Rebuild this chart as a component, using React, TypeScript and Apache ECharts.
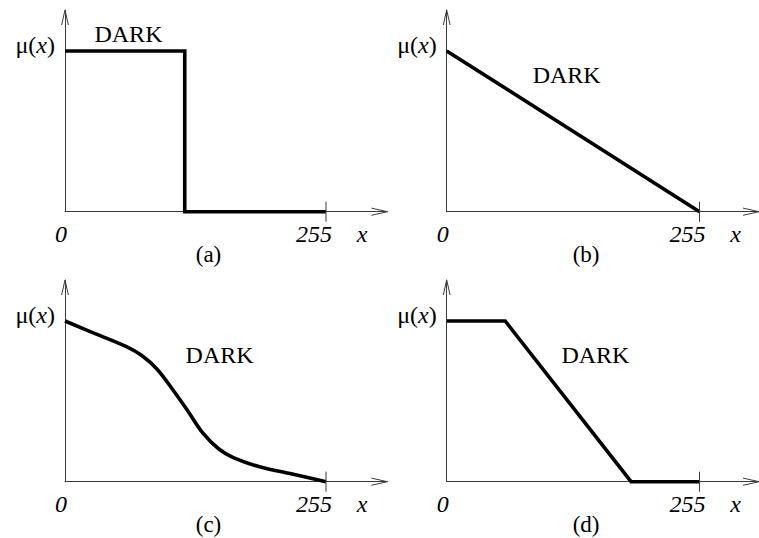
import React, { useEffect, useRef } from "react";
import * as echarts from "echarts";

// Axis extents: x runs a little past 255 so the arrow sits beyond the last tick
const X_MAX = 315;
const Y_MAX = 1.255;
const X_LAST = 255;

// (a) crisp threshold
const stepX = [0, 117, 117, 255];
const stepMu = [1, 1, 0, 0];
// (b) linear ramp
const rampX = [0, 255];
const rampMu = [1, 0];
// (c) smooth S-shaped fall-off
const curveX = [0, 30, 60, 75, 90, 105, 120, 135, 150, 165, 190, 222, 255];
const curveMu = [1.0, 0.92, 0.84, 0.785, 0.7, 0.575, 0.44, 0.3, 0.205, 0.148, 0.093, 0.048, 0];
// (d) trapezoidal shoulder
const trapX = [0, 59, 186, 255];
const trapMu = [1, 1, 0, 0];

const panelTags = ["(a)", "(b)", "(c)", "(d)"];
const setName = "DARK";
const setAnchorX = [62, 121, 151, 150];
const setAnchorMu = [1.105, 0.85, 0.79, 0.79];
const originLabel = "0";
const lastLabel = "255";
const axisName = "x";

const panelsX = [stepX, rampX, curveX, trapX];
const panelsMu = [stepMu, rampMu, curveMu, trapMu];
const panelSmooth = [false, false, 0.35, false];

// layout of the 2x2 arrangement
const LEFTS = [65, 446.7, 65, 446.7];
const TOPS = [10, 10, 280, 280];
const GRID_W = 322.4;
const GRID_H = 201.7;

const FONT = "'Liberation Serif', 'Times New Roman', 'DejaVu Serif', serif";
const INK = "#000";
const AXIS_INK = "#3a3a3a";

export default function App() {
  const ref = useRef<HTMLDivElement>(null);

  useEffect(() => {
    if (!ref.current) return;
    const chart = echarts.init(ref.current, null, { renderer: "svg" });

    const grids = LEFTS.map((left, i) => ({
      left,
      top: TOPS[i],
      width: GRID_W,
      height: GRID_H,
      containLabel: false,
    }));

    const axisCommon = {
      axisLine: { show: true, onZero: false, lineStyle: { color: AXIS_INK, width: 1 } },
      axisTick: { show: false },
      axisLabel: { show: false },
      splitLine: { show: false },
    };

    const xAxes = grids.map((_, i) => ({
      type: "value",
      gridIndex: i,
      min: 0,
      max: X_MAX,
      ...axisCommon,
    }));
    const yAxes = grids.map((_, i) => ({
      type: "value",
      gridIndex: i,
      min: 0,
      max: Y_MAX,
      ...axisCommon,
    }));

    const series = panelsX.map((xs, i) => ({
      type: "line",
      xAxisIndex: i,
      yAxisIndex: i,
      data: xs.map((x, k) => [x, panelsMu[i][k]]),
      showSymbol: false,
      symbol: "none",
      smooth: panelSmooth[i],
      clip: false,
      lineStyle: { color: INK, width: 3.6, join: "miter", cap: "butt" },
      z: 5,
    }));

    chart.setOption({
      animation: false,
      backgroundColor: "#fff",
      grid: grids,
      xAxis: xAxes,
      yAxis: yAxes,
      series,
    });

    const textStyle = (extra: any) => ({
      fill: INK,
      fontFamily: FONT,
      fontSize: 24,
      ...extra,
    });

    const graphic: any[] = [];
    for (let i = 0; i < 4; i++) {
      const finder = { gridIndex: i };
      const o = chart.convertToPixel(finder, [0, 0]) as number[];
      const xe = chart.convertToPixel(finder, [X_MAX, 0]) as number[];
      const ye = chart.convertToPixel(finder, [0, Y_MAX]) as number[];
      const one = chart.convertToPixel(finder, [0, 1]) as number[];
      const t = chart.convertToPixel(finder, [X_LAST, 0]) as number[];
      const dark = chart.convertToPixel(finder, [setAnchorX[i], setAnchorMu[i]]) as number[];

      // open arrowheads at the ends of both axes
      graphic.push({
        type: "polyline",
        silent: true,
        shape: { points: [[xe[0] - 16, xe[1] - 3.6], [xe[0], xe[1]], [xe[0] - 16, xe[1] + 3.6]] },
        style: { stroke: AXIS_INK, lineWidth: 1, fill: "none" },
        z: 10,
      });
      graphic.push({
        type: "polyline",
        silent: true,
        shape: { points: [[ye[0] - 3.4, ye[1] + 15], [ye[0], ye[1]], [ye[0] + 3.4, ye[1] + 15]] },
        style: { stroke: AXIS_INK, lineWidth: 1, fill: "none" },
        z: 10,
      });
      // tick crossing the x axis at 255
      graphic.push({
        type: "line",
        silent: true,
        shape: { x1: t[0], y1: t[1] - 10, x2: t[0], y2: t[1] + 10 },
        style: { stroke: AXIS_INK, lineWidth: 1 },
        z: 10,
      });

      graphic.push({
        type: "text",
        silent: true,
        x: o[0] - 10,
        y: one[1] - 6,
        style: textStyle({
          text: "{n|μ(}{i|x}{n|)}",
          align: "right",
          verticalAlign: "middle",
          rich: {
            n: { fontFamily: FONT, fontSize: 24, fill: INK },
            i: { fontFamily: FONT, fontSize: 24, fontStyle: "italic", fill: INK },
          },
        }),
        z: 10,
      });
      graphic.push({
        type: "text",
        silent: true,
        x: o[0] - 4,
        y: o[1] + 22,
        style: textStyle({ text: originLabel, fontStyle: "italic", align: "center", verticalAlign: "middle" }),
        z: 10,
      });
      graphic.push({
        type: "text",
        silent: true,
        x: t[0] - 12,
        y: o[1] + 22,
        style: textStyle({ text: lastLabel, fontStyle: "italic", align: "center", verticalAlign: "middle" }),
        z: 10,
      });
      graphic.push({
        type: "text",
        silent: true,
        x: t[0] + 36,
        y: o[1] + 22,
        style: textStyle({ text: axisName, fontStyle: "italic", align: "center", verticalAlign: "middle" }),
        z: 10,
      });
      graphic.push({
        type: "text",
        silent: true,
        x: (o[0] + t[0]) / 2 + 13,
        y: o[1] + 43,
        style: textStyle({ text: panelTags[i], fontSize: 23, align: "center", verticalAlign: "middle" }),
        z: 10,
      });
      graphic.push({
        type: "text",
        silent: true,
        x: dark[0],
        y: dark[1],
        style: textStyle({ text: setName, align: "center", verticalAlign: "middle" }),
        z: 10,
      });
    }

    chart.setOption({ graphic });

    return () => {
      chart.dispose();
    };
  }, []);

  return (
    <div
      ref={ref}
      style={{ position: "fixed", left: 0, top: 0, width: 759, height: 538, background: "#fff" }}
    />
  );
}
